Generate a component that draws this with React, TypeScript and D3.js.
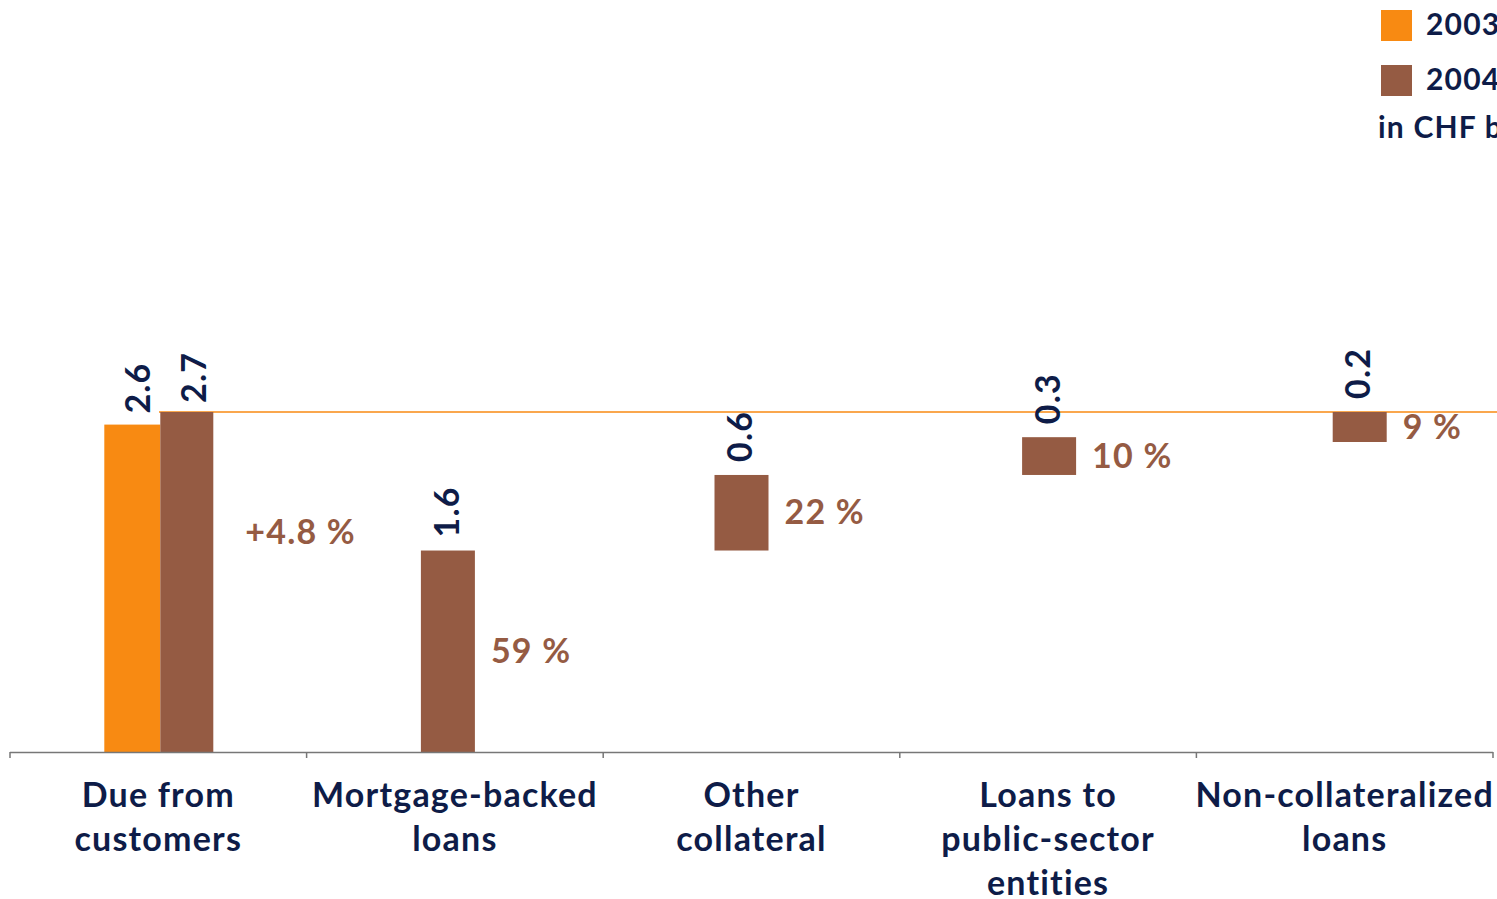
import React from "react"
import * as d3 from "d3"

const width = 1497
const height = 899

const categories = [
  ["Due from", "customers"],
  ["Mortgage-backed", "loans"],
  ["Other", "collateral"],
  ["Loans to", "public-sector", "entities"],
  ["Non-collateralized", "loans"],
]
const values2003 = [2.6]
const values2004 = [2.7, 1.6, 0.6, 0.3, 0.2]
const shares = ["+4.8 %", "59 %", "22 %", "10 %", "9 %"]
const years = ["2003", "2004"]

const orange = "#f88a12"
const brown = "#955b43"
const navy = "#0e1c48"
const font = "Lato, 'Open Sans', sans-serif"

// bars in the source sit a little off their band centres
const nudge = [0, -7, -10, 1, 15]

export default function App() {
  const x = d3.scaleBand<number>().domain(d3.range(categories.length)).range([10, 1493])
  const y = d3.scaleLinear().domain([0, 2.7]).range([752, 412])
  const barW = 54
  const bw = x.bandwidth()

  // waterfall: first category is the total, the rest stack up to it
  const starts = values2004.map((_, i) => (i === 0 ? 0 : d3.sum(values2004.slice(1, i))))
  const ticks = d3.range(categories.length + 1).map(i => 10 + i * bw)

  return (
    <svg
      width={width}
      height={height}
      style={{ position: "absolute", left: 0, top: 0, fontFamily: font, fontWeight: 700, letterSpacing: 1.2 }}
    >
      <line x1={159} x2={width} y1={y(2.7)} y2={y(2.7)} stroke={orange} strokeWidth={1.5} />

      {values2004.map((v, i) => {
        const cx = x(i)! + bw / 2
        const y0 = starts[i]
        const top = y(y0 + v)
        if (i === 0) {
          const v3 = values2003[0]
          return (
            <g key={i}>
              <rect x={cx - barW} y={y(v3)} width={barW + 2} height={y(0) - y(v3)} fill={orange} />
              <rect x={cx + 2} y={top} width={barW - 1} height={y(0) - top} fill={brown} />
              <text transform={`translate(${cx - barW / 2 + 10},${y(v3) - 11}) rotate(-90)`} fontSize={34} fill={navy} dominantBaseline="middle">
                {v3.toFixed(1)}
              </text>
              <text transform={`translate(${cx + barW / 2 + 12},${top - 9}) rotate(-90)`} fontSize={34} fill={navy} dominantBaseline="middle">
                {v.toFixed(1)}
              </text>
              <text x={cx + 87} y={y(1.72)} fontSize={34} fill={brown} dominantBaseline="middle">
                {shares[i]}
              </text>
            </g>
          )
        }
        const bx = cx - barW / 2 + nudge[i]
        const h = Math.max(y(y0) - top, 30)
        return (
          <g key={i}>
            <rect x={bx} y={top} width={barW} height={h} fill={brown} />
            <text transform={`translate(${bx + barW / 2 + 2},${top - 13}) rotate(-90)`} fontSize={34} fill={navy} dominantBaseline="middle">
              {v.toFixed(1)}
            </text>
            <text x={bx + barW + 16} y={top + h / 2 + 3} fontSize={34} fill={brown} dominantBaseline="middle">
              {shares[i]}
            </text>
          </g>
        )
      })}

      <line x1={10} x2={1493} y1={752.5} y2={752.5} stroke="#777" strokeWidth={1.5} />
      {ticks.map((t, i) => (
        <line key={i} x1={t} x2={t} y1={752} y2={758} stroke="#777" strokeWidth={1.5} />
      ))}

      {categories.map((lines, i) => (
        <text key={i} x={x(i)! + bw / 2} y={807} fontSize={34} fill={navy} textAnchor="middle">
          {lines.map((l, j) => (
            <tspan key={j} x={x(i)! + bw / 2} dy={j === 0 ? 0 : 44}>
              {l}
            </tspan>
          ))}
        </text>
      ))}

      {years.map((yr, i) => (
        <g key={yr} transform={`translate(1381,${10 + i * 55})`}>
          <rect width={31} height={31} fill={i === 0 ? orange : brown} />
          <text x={45} y={25} fontSize={30} fill={navy}>
            {yr}
          </text>
        </g>
      ))}
      <text x={1378} y={138} fontSize={30} fill={navy}>
        in CHF bn
      </text>
    </svg>
  )
}
